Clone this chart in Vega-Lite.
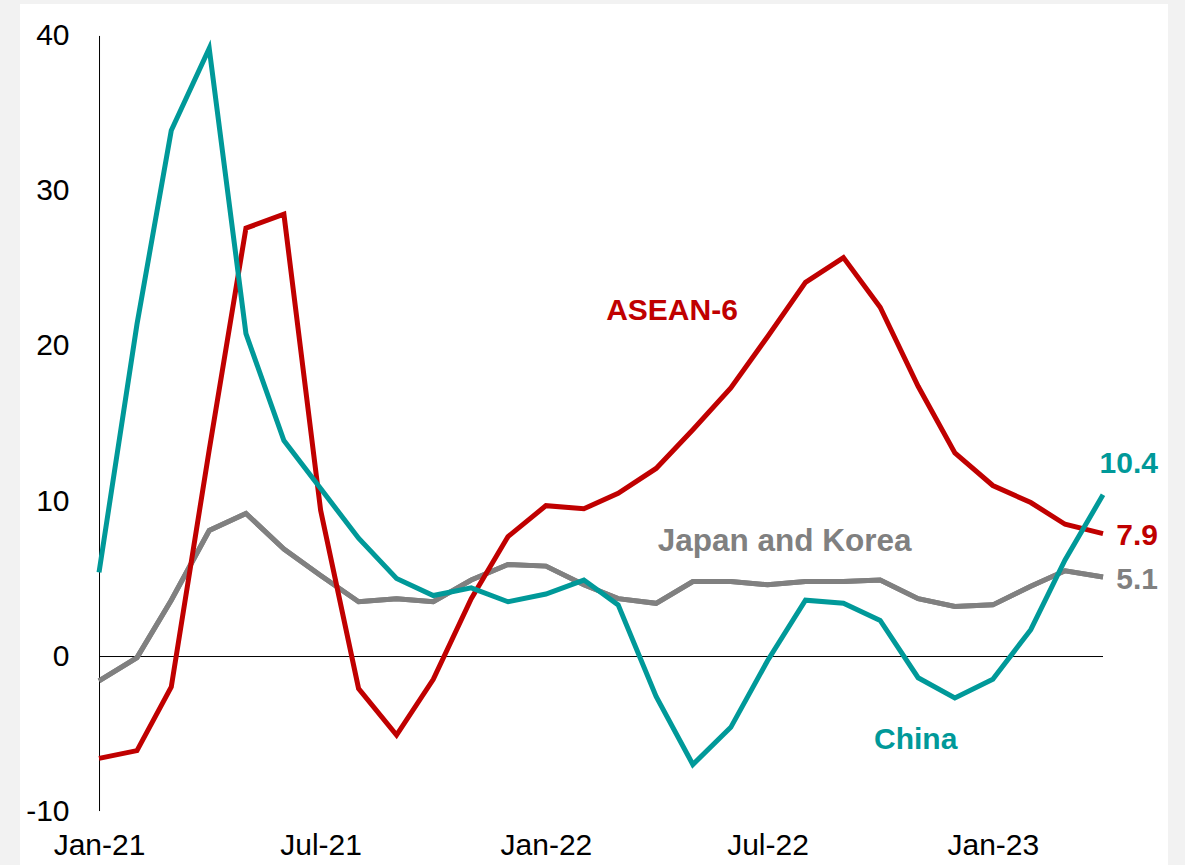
{
  "$schema": "https://vega.github.io/schema/vega-lite/v6.json",
  "width": 1148,
  "height": 861,
  "autosize": {"type": "none"},
  "padding": {"left": 20, "top": 4, "right": 17, "bottom": 0},
  "background": "#f2f2f2",
  "config": {
    "view": {"fill": "white", "stroke": null},
    "font": "Liberation Sans",
    "axis": {"domain": false, "ticks": false, "grid": false, "labelFontSize": 30, "labelColor": "black", "labelFont": "Liberation Sans", "labelOverlap": false},
    "axisX": {"labelPadding": 0, "offset": -35, "labelFlush": false},
    "axisY": {"labelPadding": 30, "offset": -79}
  },
  "data": {"values": [
    {"date": "2021-01-01", "series": "Japan and Korea", "value": -1.6},
    {"date": "2021-02-01", "series": "Japan and Korea", "value": -0.1},
    {"date": "2021-03-01", "series": "Japan and Korea", "value": 3.6},
    {"date": "2021-04-01", "series": "Japan and Korea", "value": 8.1},
    {"date": "2021-05-01", "series": "Japan and Korea", "value": 9.2},
    {"date": "2021-06-01", "series": "Japan and Korea", "value": 6.9},
    {"date": "2021-07-01", "series": "Japan and Korea", "value": 5.2},
    {"date": "2021-08-01", "series": "Japan and Korea", "value": 3.5},
    {"date": "2021-09-01", "series": "Japan and Korea", "value": 3.7},
    {"date": "2021-10-01", "series": "Japan and Korea", "value": 3.5},
    {"date": "2021-11-01", "series": "Japan and Korea", "value": 4.9},
    {"date": "2021-12-01", "series": "Japan and Korea", "value": 5.9},
    {"date": "2022-01-01", "series": "Japan and Korea", "value": 5.8},
    {"date": "2022-02-01", "series": "Japan and Korea", "value": 4.6},
    {"date": "2022-03-01", "series": "Japan and Korea", "value": 3.7},
    {"date": "2022-04-01", "series": "Japan and Korea", "value": 3.4},
    {"date": "2022-05-01", "series": "Japan and Korea", "value": 4.8},
    {"date": "2022-06-01", "series": "Japan and Korea", "value": 4.8},
    {"date": "2022-07-01", "series": "Japan and Korea", "value": 4.6},
    {"date": "2022-08-01", "series": "Japan and Korea", "value": 4.8},
    {"date": "2022-09-01", "series": "Japan and Korea", "value": 4.8},
    {"date": "2022-10-01", "series": "Japan and Korea", "value": 4.9},
    {"date": "2022-11-01", "series": "Japan and Korea", "value": 3.7},
    {"date": "2022-12-01", "series": "Japan and Korea", "value": 3.2},
    {"date": "2023-01-01", "series": "Japan and Korea", "value": 3.3},
    {"date": "2023-02-01", "series": "Japan and Korea", "value": 4.5},
    {"date": "2023-03-01", "series": "Japan and Korea", "value": 5.5},
    {"date": "2023-04-01", "series": "Japan and Korea", "value": 5.1},
    {"date": "2021-01-01", "series": "ASEAN-6", "value": -6.6},
    {"date": "2021-02-01", "series": "ASEAN-6", "value": -6.1},
    {"date": "2021-03-01", "series": "ASEAN-6", "value": -2.0},
    {"date": "2021-04-01", "series": "ASEAN-6", "value": 13.3},
    {"date": "2021-05-01", "series": "ASEAN-6", "value": 27.6},
    {"date": "2021-06-01", "series": "ASEAN-6", "value": 28.5},
    {"date": "2021-07-01", "series": "ASEAN-6", "value": 9.4},
    {"date": "2021-08-01", "series": "ASEAN-6", "value": -2.1},
    {"date": "2021-09-01", "series": "ASEAN-6", "value": -5.1},
    {"date": "2021-10-01", "series": "ASEAN-6", "value": -1.5},
    {"date": "2021-11-01", "series": "ASEAN-6", "value": 3.7},
    {"date": "2021-12-01", "series": "ASEAN-6", "value": 7.7},
    {"date": "2022-01-01", "series": "ASEAN-6", "value": 9.7},
    {"date": "2022-02-01", "series": "ASEAN-6", "value": 9.5},
    {"date": "2022-03-01", "series": "ASEAN-6", "value": 10.5},
    {"date": "2022-04-01", "series": "ASEAN-6", "value": 12.1},
    {"date": "2022-05-01", "series": "ASEAN-6", "value": 14.6},
    {"date": "2022-06-01", "series": "ASEAN-6", "value": 17.3},
    {"date": "2022-07-01", "series": "ASEAN-6", "value": 20.6},
    {"date": "2022-08-01", "series": "ASEAN-6", "value": 24.1},
    {"date": "2022-09-01", "series": "ASEAN-6", "value": 25.7},
    {"date": "2022-10-01", "series": "ASEAN-6", "value": 22.5},
    {"date": "2022-11-01", "series": "ASEAN-6", "value": 17.4},
    {"date": "2022-12-01", "series": "ASEAN-6", "value": 13.1},
    {"date": "2023-01-01", "series": "ASEAN-6", "value": 11.0},
    {"date": "2023-02-01", "series": "ASEAN-6", "value": 9.9},
    {"date": "2023-03-01", "series": "ASEAN-6", "value": 8.5},
    {"date": "2023-04-01", "series": "ASEAN-6", "value": 7.9},
    {"date": "2021-01-01", "series": "China", "value": 5.4},
    {"date": "2021-02-01", "series": "China", "value": 21.4},
    {"date": "2021-03-01", "series": "China", "value": 33.9},
    {"date": "2021-04-01", "series": "China", "value": 39.2},
    {"date": "2021-05-01", "series": "China", "value": 20.8},
    {"date": "2021-06-01", "series": "China", "value": 13.9},
    {"date": "2021-07-01", "series": "China", "value": 10.8},
    {"date": "2021-08-01", "series": "China", "value": 7.6},
    {"date": "2021-09-01", "series": "China", "value": 5.0},
    {"date": "2021-10-01", "series": "China", "value": 3.9},
    {"date": "2021-11-01", "series": "China", "value": 4.4},
    {"date": "2021-12-01", "series": "China", "value": 3.5},
    {"date": "2022-01-01", "series": "China", "value": 4.0},
    {"date": "2022-02-01", "series": "China", "value": 4.9},
    {"date": "2022-03-01", "series": "China", "value": 3.3},
    {"date": "2022-04-01", "series": "China", "value": -2.6},
    {"date": "2022-05-01", "series": "China", "value": -7.0},
    {"date": "2022-06-01", "series": "China", "value": -4.6},
    {"date": "2022-07-01", "series": "China", "value": -0.3},
    {"date": "2022-08-01", "series": "China", "value": 3.6},
    {"date": "2022-09-01", "series": "China", "value": 3.4},
    {"date": "2022-10-01", "series": "China", "value": 2.3},
    {"date": "2022-11-01", "series": "China", "value": -1.4},
    {"date": "2022-12-01", "series": "China", "value": -2.7},
    {"date": "2023-01-01", "series": "China", "value": -1.5},
    {"date": "2023-02-01", "series": "China", "value": 1.7},
    {"date": "2023-03-01", "series": "China", "value": 6.2},
    {"date": "2023-04-01", "series": "China", "value": 10.4}
  ]},
  "layer": [
    {
      "transform": [{"filter": "datum.series === 'Japan and Korea'"}],
      "mark": {"type": "line", "color": "#808080", "strokeWidth": 5},
      "encoding": {
        "x": {
          "field": "date", "type": "temporal", "title": null,
          "scale": {"type": "utc", "domain": [
            {"year": 2020, "month": 10, "date": 28, "hours": 11, "utc": true},
            {"year": 2023, "month": 5, "date": 24, "hours": 2, "utc": true}
          ]},
          "axis": {
            "values": [
              {"year": 2021, "month": 1, "date": 1, "utc": true},
              {"year": 2021, "month": 7, "date": 1, "utc": true},
              {"year": 2022, "month": 1, "date": 1, "utc": true},
              {"year": 2022, "month": 7, "date": 1, "utc": true},
              {"year": 2023, "month": 1, "date": 1, "utc": true}
            ],
            "format": "%b-%y",
            "title": null, "labelPadding": 0, "offset": -35, "labelFlush": false
          }
        },
        "y": {
          "field": "value", "type": "quantitative", "title": null,
          "scale": {"domain": [-13.48, 42.06], "nice": false, "zero": false},
          "axis": {
            "values": [-10, 0, 10, 20, 30, 40],
            "labelExpr": "toString(datum.value)",
            "title": null, "labelPadding": 30, "offset": -79
          }
        }
      }
    },
    {
      "data": {"values": [{}]},
      "mark": {"type": "rule", "color": "black", "strokeWidth": 1, "yOffset": 0.5},
      "encoding": {
        "x": {"datum": {"year": 2021, "month": 1, "date": 1, "utc": true}, "type": "temporal", "title": null},
        "x2": {"datum": {"year": 2023, "month": 4, "date": 1, "utc": true}},
        "y": {"datum": 0, "type": "quantitative", "title": null}
      }
    },
    {
      "data": {"values": [{}]},
      "mark": {"type": "rule", "color": "black", "strokeWidth": 1, "xOffset": 0.5},
      "encoding": {
        "x": {"datum": {"year": 2021, "month": 1, "date": 1, "utc": true}, "type": "temporal", "title": null},
        "y": {"datum": -10, "type": "quantitative", "title": null},
        "y2": {"datum": 40}
      }
    },
    {
      "transform": [{"filter": "datum.series === 'Japan and Korea'"}],
      "mark": {"type": "line", "color": "#808080", "strokeWidth": 5},
      "encoding": {
        "x": {"field": "date", "type": "temporal", "title": null},
        "y": {"field": "value", "type": "quantitative", "title": null}
      }
    },
    {
      "transform": [{"filter": "datum.series === 'ASEAN-6'"}],
      "mark": {"type": "line", "color": "#C00000", "strokeWidth": 5},
      "encoding": {
        "x": {"field": "date", "type": "temporal", "title": null},
        "y": {"field": "value", "type": "quantitative", "title": null}
      }
    },
    {
      "transform": [{"filter": "datum.series === 'China'"}],
      "mark": {"type": "line", "color": "#009999", "strokeWidth": 5},
      "encoding": {
        "x": {"field": "date", "type": "temporal", "title": null},
        "y": {"field": "value", "type": "quantitative", "title": null}
      }
    },
    {
      "transform": [{"filter": "datum.series === 'China' && utcyear(datum.date) === 2023 && utcmonth(datum.date) === 3"}],
      "mark": {"type": "text", "color": "#009999", "fontSize": 30, "fontWeight": "bold", "align": "right", "baseline": "middle", "dx": 55, "dy": -31},
      "encoding": {
        "x": {"field": "date", "type": "temporal", "title": null},
        "y": {"field": "value", "type": "quantitative", "title": null},
        "text": {"field": "value", "type": "quantitative", "format": ".1f"}
      }
    },
    {
      "transform": [{"filter": "datum.series === 'ASEAN-6' && utcyear(datum.date) === 2023 && utcmonth(datum.date) === 3"}],
      "mark": {"type": "text", "color": "#C00000", "fontSize": 30, "fontWeight": "bold", "align": "right", "baseline": "middle", "dx": 55, "dy": 2},
      "encoding": {
        "x": {"field": "date", "type": "temporal", "title": null},
        "y": {"field": "value", "type": "quantitative", "title": null},
        "text": {"field": "value", "type": "quantitative", "format": ".1f"}
      }
    },
    {
      "transform": [{"filter": "datum.series === 'Japan and Korea' && utcyear(datum.date) === 2023 && utcmonth(datum.date) === 3"}],
      "mark": {"type": "text", "color": "#808080", "fontSize": 30, "fontWeight": "bold", "align": "right", "baseline": "middle", "dx": 55, "dy": 3},
      "encoding": {
        "x": {"field": "date", "type": "temporal", "title": null},
        "y": {"field": "value", "type": "quantitative", "title": null},
        "text": {"field": "value", "type": "quantitative", "format": ".1f"}
      }
    },
    {
      "data": {"values": [{}]},
      "mark": {"type": "text", "text": "ASEAN-6", "color": "#C00000", "fontSize": 30, "fontWeight": "bold", "align": "center", "baseline": "middle"},
      "encoding": {
        "x": {"datum": {"year": 2022, "month": 4, "date": 14, "utc": true}, "type": "temporal", "title": null},
        "y": {"datum": 22.26, "type": "quantitative", "title": null}
      }
    },
    {
      "data": {"values": [{}]},
      "mark": {"type": "text", "text": "Japan and Korea", "color": "#808080", "fontSize": 31.5, "fontWeight": "bold", "align": "center", "baseline": "middle"},
      "encoding": {
        "x": {"datum": {"year": 2022, "month": 7, "date": 15, "utc": true}, "type": "temporal", "title": null},
        "y": {"datum": 7.35, "type": "quantitative", "title": null}
      }
    },
    {
      "data": {"values": [{}]},
      "mark": {"type": "text", "text": "China", "color": "#009999", "fontSize": 30, "fontWeight": "bold", "align": "center", "baseline": "middle"},
      "encoding": {
        "x": {"datum": {"year": 2022, "month": 10, "date": 30, "utc": true}, "type": "temporal", "title": null},
        "y": {"datum": -5.42, "type": "quantitative", "title": null}
      }
    }
  ]
}
